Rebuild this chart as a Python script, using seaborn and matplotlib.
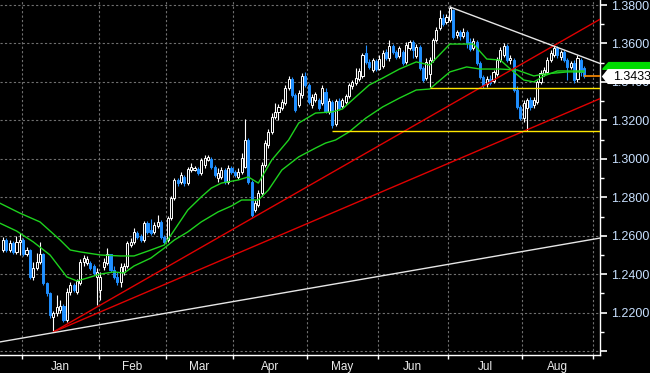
import numpy as np
import matplotlib
matplotlib.use('Agg')
import matplotlib.pyplot as plt
from matplotlib.patches import Polygon
import seaborn as sns

# --- daily candles (trading-day index 0..173) ---
open_ = [
    1.2526, 1.2578, 1.2526, 1.2562, 1.2516, 1.2568, 1.2578, 1.2505, 1.2526, 1.2386,
    1.2432, 1.2464, 1.2505, 1.2354, 1.2302, 1.2178, 1.2198, 1.2214, 1.2235, 1.2162,
    1.2308, 1.2344, 1.2308, 1.2354, 1.2464, 1.2458, 1.2458, 1.2443, 1.2386, 1.2318,
    1.2438, 1.2458, 1.2505, 1.2422, 1.2386, 1.2360, 1.2412, 1.2443, 1.2552, 1.2568,
    1.2614, 1.2599, 1.2578, 1.2666, 1.2630, 1.2620, 1.2651, 1.2672, 1.2594, 1.2578,
    1.2692, 1.2796, 1.2890, 1.2880, 1.2906, 1.2874, 1.2942, 1.2942, 1.2947, 1.2926,
    1.2968, 1.2994, 1.2999, 1.2958, 1.2900, 1.2906, 1.2942, 1.2880, 1.2952, 1.2932,
    1.2906, 1.2932, 1.2958, 1.3098, 1.2880, 1.2734, 1.2760, 1.2822, 1.2968, 1.3072,
    1.3140, 1.3218, 1.3244, 1.3264, 1.3290, 1.3368, 1.3415, 1.3332, 1.3280, 1.3332,
    1.3431, 1.3384, 1.3280, 1.3306, 1.3306, 1.3290, 1.3348, 1.3244, 1.3296, 1.3181,
    1.3301, 1.3275, 1.3296, 1.3327, 1.3379, 1.3394, 1.3415, 1.3431, 1.3550, 1.3504,
    1.3462, 1.3509, 1.3467, 1.3483, 1.3556, 1.3524, 1.3587, 1.3556, 1.3535, 1.3556,
    1.3504, 1.3576, 1.3608, 1.3535, 1.3582, 1.3472, 1.3420, 1.3441, 1.3514, 1.3618,
    1.3680, 1.3732, 1.3712, 1.3722, 1.3774, 1.3644, 1.3660, 1.3639, 1.3660, 1.3608,
    1.3576, 1.3608, 1.3498, 1.3426, 1.3389, 1.3415, 1.3405, 1.3441, 1.3514, 1.3540,
    1.3587, 1.3514, 1.3514, 1.3358, 1.3270, 1.3212, 1.3264, 1.3306, 1.3280, 1.3296,
    1.3400, 1.3441, 1.3452, 1.3514, 1.3540, 1.3576, 1.3530, 1.3556, 1.3514, 1.3478,
    1.3498, 1.3415, 1.3514, 1.3472]
high = [
    1.2594, 1.2588, 1.2578, 1.2573, 1.2599, 1.2614, 1.2588, 1.2542, 1.2531, 1.2464,
    1.2510, 1.2568, 1.2510, 1.2360, 1.2308, 1.2209, 1.2292, 1.2266, 1.2245, 1.2328,
    1.2360, 1.2354, 1.2375, 1.2479, 1.2500, 1.2495, 1.2469, 1.2453, 1.2432, 1.2412,
    1.2484, 1.2536, 1.2505, 1.2443, 1.2412, 1.2458, 1.2458, 1.2573, 1.2588, 1.2640,
    1.2625, 1.2609, 1.2677, 1.2677, 1.2687, 1.2672, 1.2708, 1.2682, 1.2604, 1.2703,
    1.2807, 1.2900, 1.2900, 1.2932, 1.2916, 1.2958, 1.2978, 1.2963, 1.2958, 1.3004,
    1.3020, 1.3020, 1.3010, 1.2968, 1.2952, 1.2958, 1.2952, 1.2968, 1.2963, 1.2942,
    1.2952, 1.3030, 1.3207, 1.3108, 1.2890, 1.2786, 1.2838, 1.2984, 1.3098, 1.3155,
    1.3238, 1.3290, 1.3285, 1.3311, 1.3384, 1.3431, 1.3426, 1.3342, 1.3358, 1.3446,
    1.3452, 1.3394, 1.3337, 1.3348, 1.3316, 1.3384, 1.3368, 1.3316, 1.3306, 1.3311,
    1.3316, 1.3316, 1.3337, 1.3394, 1.3410, 1.3472, 1.3472, 1.3550, 1.3592, 1.3519,
    1.3524, 1.3519, 1.3540, 1.3566, 1.3571, 1.3618, 1.3597, 1.3566, 1.3587, 1.3566,
    1.3608, 1.3618, 1.3618, 1.3597, 1.3592, 1.3483, 1.3524, 1.3530, 1.3628, 1.3686,
    1.3774, 1.3753, 1.3753, 1.3795, 1.3779, 1.3670, 1.3670, 1.3680, 1.3670, 1.3628,
    1.3628, 1.3618, 1.3509, 1.3436, 1.3431, 1.3436, 1.3462, 1.3530, 1.3582, 1.3602,
    1.3597, 1.3540, 1.3524, 1.3379, 1.3280, 1.3306, 1.3316, 1.3322, 1.3322, 1.3410,
    1.3462, 1.3478, 1.3530, 1.3566, 1.3592, 1.3587, 1.3566, 1.3566, 1.3524, 1.3509,
    1.3514, 1.3540, 1.3524, 1.3483]
low = [
    1.2516, 1.2516, 1.2516, 1.2505, 1.2505, 1.2500, 1.2495, 1.2495, 1.2375, 1.2370,
    1.2422, 1.2453, 1.2344, 1.2287, 1.2172, 1.2100, 1.2183, 1.2198, 1.2152, 1.2152,
    1.2292, 1.2308, 1.2297, 1.2344, 1.2443, 1.2448, 1.2422, 1.2396, 1.2240, 1.2266,
    1.2422, 1.2448, 1.2412, 1.2375, 1.2344, 1.2334, 1.2396, 1.2432, 1.2542, 1.2557,
    1.2583, 1.2568, 1.2568, 1.2609, 1.2604, 1.2609, 1.2640, 1.2583, 1.2557, 1.2568,
    1.2682, 1.2786, 1.2859, 1.2869, 1.2859, 1.2864, 1.2932, 1.2937, 1.2916, 1.2916,
    1.2952, 1.2989, 1.2947, 1.2906, 1.2880, 1.2895, 1.2869, 1.2869, 1.2921, 1.2906,
    1.2895, 1.2921, 1.2952, 1.2869, 1.2698, 1.2724, 1.2750, 1.2807, 1.2958, 1.3056,
    1.3129, 1.3207, 1.3202, 1.3254, 1.3280, 1.3358, 1.3322, 1.3244, 1.3270, 1.3316,
    1.3374, 1.3285, 1.3264, 1.3296, 1.3254, 1.3280, 1.3238, 1.3233, 1.3160, 1.3171,
    1.3254, 1.3264, 1.3285, 1.3316, 1.3363, 1.3384, 1.3405, 1.3420, 1.3493, 1.3467,
    1.3452, 1.3457, 1.3462, 1.3472, 1.3514, 1.3509, 1.3545, 1.3519, 1.3524, 1.3488,
    1.3493, 1.3566, 1.3524, 1.3524, 1.3462, 1.3400, 1.3410, 1.3374, 1.3504, 1.3608,
    1.3670, 1.3691, 1.3701, 1.3712, 1.3623, 1.3628, 1.3618, 1.3628, 1.3576, 1.3561,
    1.3566, 1.3488, 1.3415, 1.3368, 1.3374, 1.3384, 1.3394, 1.3431, 1.3504, 1.3530,
    1.3504, 1.3493, 1.3348, 1.3259, 1.3202, 1.3192, 1.3145, 1.3254, 1.3264, 1.3285,
    1.3389, 1.3431, 1.3441, 1.3504, 1.3530, 1.3524, 1.3514, 1.3504, 1.3410, 1.3467,
    1.3394, 1.3400, 1.3431, 1.3420]
close = [
    1.2578, 1.2526, 1.2562, 1.2516, 1.2568, 1.2578, 1.2505, 1.2526, 1.2386, 1.2432,
    1.2464, 1.2505, 1.2354, 1.2302, 1.2188, 1.2198, 1.2230, 1.2235, 1.2162, 1.2308,
    1.2344, 1.2318, 1.2365, 1.2464, 1.2484, 1.2479, 1.2432, 1.2406, 1.2412, 1.2386,
    1.2464, 1.2505, 1.2422, 1.2386, 1.2360, 1.2438, 1.2443, 1.2562, 1.2568, 1.2620,
    1.2594, 1.2578, 1.2666, 1.2620, 1.2614, 1.2656, 1.2672, 1.2594, 1.2568, 1.2692,
    1.2796, 1.2890, 1.2874, 1.2916, 1.2874, 1.2947, 1.2958, 1.2952, 1.2926, 1.2994,
    1.3004, 1.3010, 1.2958, 1.2916, 1.2926, 1.2942, 1.2880, 1.2952, 1.2932, 1.2916,
    1.2932, 1.3004, 1.3098, 1.2880, 1.2708, 1.2770, 1.2822, 1.2968, 1.3082, 1.3140,
    1.3218, 1.3244, 1.3270, 1.3296, 1.3368, 1.3415, 1.3332, 1.3254, 1.3342, 1.3431,
    1.3384, 1.3296, 1.3322, 1.3337, 1.3264, 1.3368, 1.3249, 1.3301, 1.3176, 1.3301,
    1.3264, 1.3306, 1.3327, 1.3384, 1.3400, 1.3420, 1.3457, 1.3540, 1.3504, 1.3478,
    1.3514, 1.3467, 1.3519, 1.3550, 1.3524, 1.3587, 1.3556, 1.3530, 1.3576, 1.3498,
    1.3592, 1.3608, 1.3566, 1.3582, 1.3472, 1.3410, 1.3504, 1.3514, 1.3618, 1.3670,
    1.3732, 1.3701, 1.3738, 1.3784, 1.3634, 1.3660, 1.3639, 1.3660, 1.3602, 1.3571,
    1.3613, 1.3498, 1.3426, 1.3384, 1.3415, 1.3394, 1.3452, 1.3514, 1.3566, 1.3587,
    1.3514, 1.3524, 1.3358, 1.3270, 1.3212, 1.3290, 1.3306, 1.3270, 1.3306, 1.3400,
    1.3446, 1.3462, 1.3514, 1.3550, 1.3576, 1.3540, 1.3556, 1.3514, 1.3478, 1.3498,
    1.3410, 1.3524, 1.3452, 1.3433]

# --- moving averages (read at intervals) ---
fast_idx = [-1, 5, 11, 17, 20, 23, 29, 35, 39, 44, 48, 51, 55, 59, 62, 65, 70, 73, 76, 80,
            85, 88, 93, 98, 101, 105, 109, 113, 118, 123, 127, 133, 140, 144, 148, 152,
            155, 158, 161, 165, 173]
fast_ma = [1.2770, 1.2718, 1.2672, 1.2578, 1.2526, 1.2516, 1.2500, 1.2495, 1.2495, 1.2526,
           1.2552, 1.2630, 1.2734, 1.2802, 1.2848, 1.2874, 1.2890, 1.2906, 1.2874, 1.2994,
           1.3098, 1.3186, 1.3238, 1.3244, 1.3259, 1.3322, 1.3384, 1.3420, 1.3467, 1.3504,
           1.3488, 1.3597, 1.3597, 1.3519, 1.3514, 1.3452, 1.3410, 1.3400, 1.3431, 1.3457,
           1.3457]
slow_idx = [-1, 4, 9, 14, 19, 22, 25, 29, 33, 36, 39, 44, 48, 51, 55, 59, 64, 68, 71, 76,
            79, 83, 88, 93, 96, 99, 103, 108, 113, 118, 123, 127, 133, 138, 142, 148, 153,
            158, 161, 168, 173]
slow_ma = [1.2666, 1.2625, 1.2568, 1.2500, 1.2386, 1.2365, 1.2380, 1.2401, 1.2412, 1.2406,
           1.2443, 1.2484, 1.2536, 1.2578, 1.2620, 1.2672, 1.2724, 1.2755, 1.2786, 1.2786,
           1.2838, 1.2942, 1.3010, 1.3056, 1.3082, 1.3098, 1.3140, 1.3212, 1.3270, 1.3316,
           1.3358, 1.3363, 1.3452, 1.3478, 1.3467, 1.3467, 1.3462, 1.3431, 1.3441, 1.3452,
           1.3452]

# --- drawn studies: (start idx, end idx), (start price, end price) ---
red_steep = ([15, 177.7], [1.2100, 1.3726])
red_shallow = ([15, 177.7], [1.2100, 1.3313])
white_support = ([-0.9, 177.7], [1.2048, 1.2588])
white_resist = ([133, 177.7], [1.3790, 1.3496])
yellow_levels = [(127, 1.3368), (98, 1.3145)]
last_price = 1.3433
last_idx = 173

months = ['Jan', 'Feb', 'Mar', 'Apr', 'May', 'Jun', 'Jul', 'Aug']
month_first_idx = [6, 29, 49, 69, 91, 112, 133, 155, 176]
price_ticks = [1.20, 1.22, 1.24, 1.26, 1.28, 1.30, 1.32, 1.34, 1.36, 1.38]

# ---------------------------------------------------------------
sns.set_theme(style='dark', rc={'axes.facecolor': 'black', 'figure.facecolor': 'black',
                                'axes.edgecolor': 'white', 'axes.grid': False})
plt.rcParams['font.family'] = ['Liberation Sans', 'DejaVu Sans']

BLUE = '#1f8fff'
GREEN = '#1ed21e'

o, h, l, c = (np.array(a) for a in (open_, high, low, close))
day = np.arange(len(c))
up = c >= o

fig = plt.figure(figsize=(6.5, 3.73), dpi=100)
ax = fig.add_axes([0, 18 / 373, 600 / 650, 355 / 373])
ax.set_xlim(-0.9, 177.7)
ax.set_ylim(1.1980, 1.3826)

# candles: hollow white for up days, solid blue for down days
ax.vlines(day[up], l[up], h[up], color='white', lw=0.8, zorder=3)
ax.vlines(day[~up], l[~up], h[~up], color=BLUE, lw=0.8, zorder=3)
ax.bar(day[up], c[up] - o[up], bottom=o[up], width=0.62, facecolor='black',
       edgecolor='white', linewidth=0.7, zorder=4)
ax.bar(day[~up], c[~up] - o[~up], bottom=o[~up], width=0.62, facecolor=BLUE,
       edgecolor=BLUE, linewidth=0.7, zorder=4)

# moving averages
sns.lineplot(x=fast_idx, y=fast_ma, color=GREEN, lw=1.0, ax=ax, zorder=5)
sns.lineplot(x=slow_idx, y=slow_ma, color=GREEN, lw=1.0, ax=ax, zorder=5)

# trend lines and levels
for xs, ys in (red_steep, red_shallow):
    sns.lineplot(x=xs, y=ys, color='#e00000', lw=1.0, ax=ax, zorder=6)
for xs, ys in (white_support, white_resist):
    sns.lineplot(x=xs, y=ys, color='#e6e6e6', lw=1.0, ax=ax, zorder=6)
for start, lvl in yellow_levels:
    ax.hlines(lvl, start, 177.7, color='#ffe600', lw=1.0, zorder=6)
ax.hlines(last_price, last_idx, 177.7, color='#ff8c00', lw=1.2, zorder=6)

# axes / grid
bounds = [m - 0.5 for m in month_first_idx]
centers = [(a + b) / 2 for a, b in zip(bounds[:-1], bounds[1:])]
ax.set_xticks(bounds)
ax.set_xticklabels([])
ax.set_xticks(centers, minor=True)
ax.set_xticklabels(months, minor=True)
ax.set_yticks(price_ticks)
ax.set_yticklabels([''] + [f'{v:.4f}' for v in price_ticks[1:]])
ax.set_yticks(np.arange(1.21, 1.38, 0.02), minor=True)
ax.yaxis.tick_right()
ax.grid(True, which='major', color='#707070', ls=(0, (2, 2)), lw=0.8)
ax.grid(False, which='minor')

ax.tick_params(axis='x', which='major', direction='out', length=3, width=1,
               color='white', bottom=True)
ax.tick_params(axis='x', which='minor', length=0, labelsize=8.5,
               labelcolor='#ececec', pad=4, bottom=True)
ax.tick_params(axis='y', which='major', direction='out', length=5, width=1.2,
               color='white', labelsize=9, labelcolor='#c8e0ff', pad=3, right=True, left=False)
ax.tick_params(axis='y', which='minor', direction='out', length=3, width=1,
               color='white', right=True, left=False)
for side in ('left', 'top'):
    ax.spines[side].set_visible(False)
for side in ('right', 'bottom'):
    ax.spines[side].set_color('white')
    ax.spines[side].set_linewidth(1.0)
ax.set_xlabel('')
ax.set_ylabel('')

# price tags on the right axis (the last-price tag sits over the 1.3400 label, as in the terminal)
tr = ax.get_yaxis_transform()
ax.add_patch(Polygon([(1.004, 1.3470), (1.014, 1.3504), (1.09, 1.3504), (1.09, 1.3462),
                      (1.004, 1.3462)], closed=True, transform=tr, facecolor='#00dc00',
                     edgecolor='none', clip_on=False, zorder=10))
ax.add_patch(Polygon([(1.003, 1.3428), (1.013, 1.3467), (1.09, 1.3467), (1.09, 1.3389),
                      (1.013, 1.3389)], closed=True, transform=tr, facecolor='white',
                     edgecolor='none', clip_on=False, zorder=11))
ax.text(1.022, 1.3428, f'{last_price:.4f}', transform=tr, ha='left', va='center',
        fontsize=9, color='black', zorder=12, clip_on=False)

fig.savefig('out.png', dpi=100, facecolor='black')
